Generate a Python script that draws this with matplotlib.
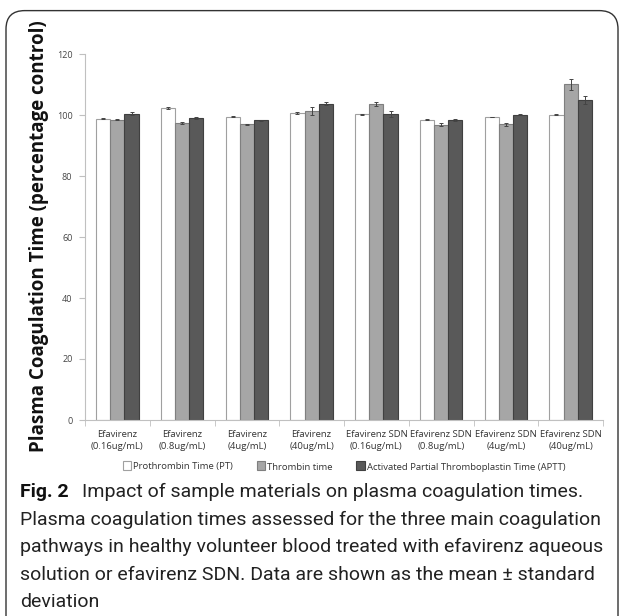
import matplotlib
matplotlib.use("Agg")
import matplotlib.pyplot as plt
import numpy as np
from matplotlib.patches import FancyBboxPatch

categories = ["Efavirenz\n(0.16ug/mL)", "Efavirenz\n(0.8ug/mL)", "Efavirenz\n(4ug/mL)",
              "Efavirenz\n(40ug/mL)", "Efavirenz SDN\n(0.16ug/mL)", "Efavirenz SDN\n(0.8ug/mL)",
              "Efavirenz SDN\n(4ug/mL)", "Efavirenz SDN\n(40ug/mL)"]
series_names = ["Prothrombin Time (PT)", "Thrombin time", "Activated Partial Thromboplastin Time (APTT)"]
pt = [98.8, 102.3, 99.4, 100.6, 100.2, 98.5, 99.3, 100.1]
pt_err = [0.2, 0.2, 0.2, 0.4, 0.2, 0.1, 0.1, 0.2]
tt = [98.4, 97.5, 97.0, 101.2, 103.7, 96.8, 96.9, 110.1]
tt_err = [0.2, 0.3, 0.2, 1.3, 0.6, 0.5, 0.4, 1.8]
aptt = [100.4, 99.0, 98.2, 103.7, 100.3, 98.4, 100.1, 104.8]
aptt_err = [0.5, 0.3, 0.2, 0.4, 1.0, 0.4, 0.2, 1.3]
yticks = [0, 20, 40, 60, 80, 100, 120]
ylabel = "Plasma Coagulation Time (percentage control)"
caption_bold = "Fig. 2"
caption_lines = [
    "Impact of sample materials on plasma coagulation times.",
    "Plasma coagulation times assessed for the three main coagulation",
    "pathways in healthy volunteer blood treated with efavirenz aqueous",
    "solution or efavirenz SDN. Data are shown as the mean \u00b1 standard",
    "deviation",
]

fig = plt.figure(figsize=(6.24, 6.16), dpi=100)
W, H = 624, 616

# rounded frame
frame = FancyBboxPatch((6 / W, -0.05), 612 / W, (H - 10) / H + 0.05 - 0.001,
                       boxstyle="round,pad=0,rounding_size=0.03",
                       transform=fig.transFigure, fill=False, edgecolor="#333333",
                       linewidth=1.0, clip_on=False)
fig.patches.append(frame)

ax = fig.add_axes([85 / W, (H - 420) / H, (603 - 85) / W, (420 - 54) / H])
x = np.arange(len(categories))
bw = 0.22
colors = ["#ffffff", "#a6a6a6", "#595959"]
edges = ["#a0a0a0", "#7f7f7f", "#404040"]
for i, (vals, errs) in enumerate([(pt, pt_err), (tt, tt_err), (aptt, aptt_err)]):
    ax.bar(x + (i - 1) * bw, vals, bw, color=colors[i], edgecolor=edges[i], linewidth=0.8,
           yerr=errs, error_kw=dict(ecolor="#444444", elinewidth=0.7, capsize=1.5, capthick=0.7),
           label=series_names[i], zorder=2)

ax.set_xlim(-0.5, len(categories) - 0.5)
ax.set_ylim(0, 120)
ax.set_yticks(yticks)
ax.set_yticklabels([str(v) for v in yticks], fontsize=6.5, color="#444444", family="Open Sans")
ax.set_xticks(x)
ax.set_xticklabels(categories, fontsize=6.8, color="#333333", family="Open Sans", linespacing=1.4)
ax.set_xticks(np.arange(-0.5, len(categories)), minor=True)
ax.tick_params(axis="x", which="major", length=0, pad=7)
ax.tick_params(axis="x", which="minor", length=4, color="#c0c0c0")
ax.tick_params(axis="y", length=4, color="#c0c0c0", pad=5)
for s in ["top", "right"]:
    ax.spines[s].set_visible(False)
for s in ["left", "bottom"]:
    ax.spines[s].set_color("#c0c0c0")
    ax.spines[s].set_linewidth(0.8)

fig.text(39 / W, 1 - 236 / H, ylabel, rotation=90, ha="center", va="center",
         fontsize=13.5, fontweight="bold", family="Open Sans", color="#111111")

leg = ax.legend(loc="center", bbox_to_anchor=(0.5 * (603 + 85) / W, 1 - 467 / H),
                bbox_transform=fig.transFigure, ncol=3, frameon=False,
                prop={"family": "Open Sans", "size": 6.8}, handlelength=0.8, handleheight=0.8,
                handletextpad=0.3, columnspacing=2.5)
for t in leg.get_texts():
    t.set_color("#333333")
for p in leg.get_patches():
    p.set_height(6)
    p.set_width(6)

cap_fam = ["Roboto", "DejaVu Sans"]
y0 = 1 - 492 / H
fs = 14
fig.text(20 / W, y0, caption_bold, fontsize=fs, fontweight="bold", family=cap_fam,
         color="#111111", va="center")
fig.text(82 / W, y0, caption_lines[0], fontsize=fs, family=cap_fam, color="#222222", va="center")
for k, line in enumerate(caption_lines[1:]):
    fig.text(20 / W, y0 - (k + 1) * 27.5 / H, line, fontsize=fs, family=cap_fam,
             color="#222222", va="center")

fig.savefig("out.png", dpi=100)
